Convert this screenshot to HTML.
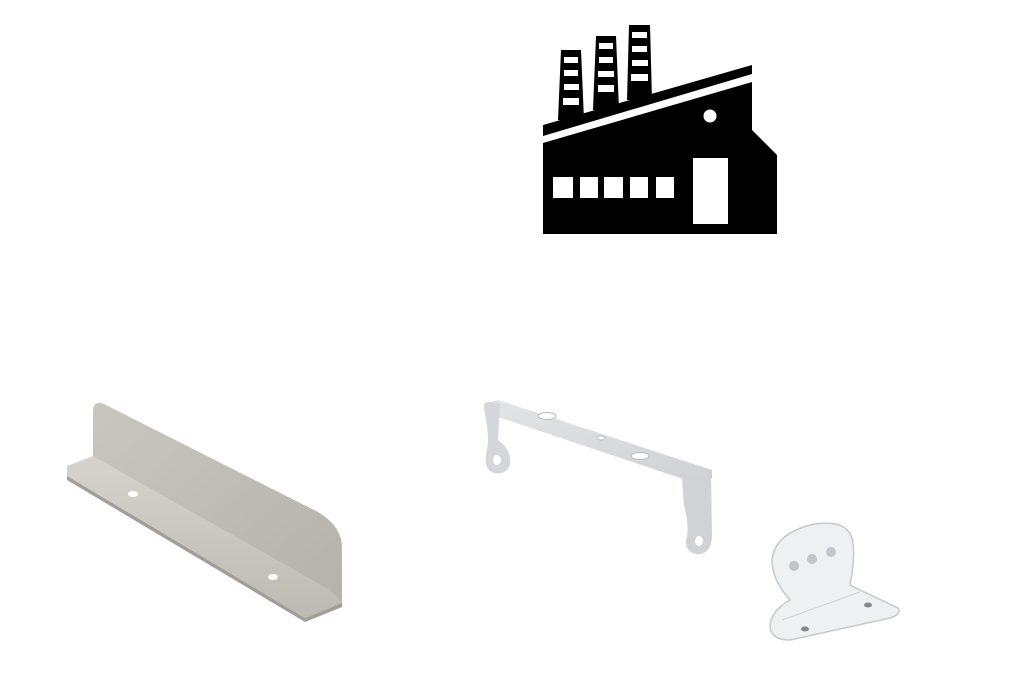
<!DOCTYPE html>
<html><head><style>body{margin:0;background:#fff}svg{display:block}</style></head><body>
<svg width="1024" height="683" viewBox="0 0 1024 683" xmlns="http://www.w3.org/2000/svg">
<defs>
<linearGradient id="g1" x1="0" y1="0" x2="1" y2="1"><stop offset="0" stop-color="#c9c5bf"/><stop offset="1" stop-color="#b5b1ab"/></linearGradient>
<linearGradient id="g2" x1="0" y1="0" x2="0" y2="1"><stop offset="0" stop-color="#d6d2cc"/><stop offset="1" stop-color="#bdb9b3"/></linearGradient>
<linearGradient id="g3" x1="0" y1="0" x2="1" y2="1"><stop offset="0" stop-color="#e2e4e6"/><stop offset="1" stop-color="#cfd1d4"/></linearGradient>
</defs>
<g fill="#000">
<polygon points="561,50 581,50 584,120 558,120"/>
<polygon points="596,36 616,36 619,110 593,110"/>
<polygon points="629,25 650,25 652,100 627,100"/>
<polygon points="543,125 752,65 752,74 543,136"/>
<polygon points="543,143 752,82 752,130 777,155 777,234 543,234"/>
</g>
<g fill="#fff">
<rect x="564" y="57" width="14" height="6"/><rect x="564" y="70" width="14" height="6"/><rect x="564" y="84" width="15" height="6"/><rect x="563" y="98" width="16" height="7"/>
<rect x="599" y="43" width="14" height="6"/><rect x="599" y="57" width="14" height="6"/><rect x="598" y="71" width="16" height="6"/><rect x="598" y="85" width="16" height="7"/>
<rect x="632" y="32" width="15" height="6"/><rect x="632" y="46" width="15" height="6"/><rect x="632" y="60" width="16" height="6"/><rect x="631" y="74" width="17" height="7"/>
<rect x="553" y="177" width="20" height="21"/><rect x="580" y="177" width="18" height="21"/><rect x="604" y="177" width="19" height="21"/><rect x="630" y="177" width="18" height="21"/><rect x="656" y="177" width="18" height="21"/>
<rect x="693" y="158" width="35" height="66"/>
<circle cx="710" cy="116" r="6.5"/>
</g>
<!-- left bracket -->
<path d="M93,470 L93,410 Q94,400 104,404 L318,512 Q342,526 342,548 L342,603 Q340,612 330,606 Z" fill="url(#g1)"/>
<path d="M67,466 L93,456 L330,590 L342,603 L305,618 L67,476 Z" fill="url(#g2)"/>
<path d="M67,476 L305,618 L342,603 L342,607 L305,622 L67,480 Z" fill="#a29e97"/>
<ellipse cx="133" cy="494" rx="5" ry="3" fill="#fff"/>
<ellipse cx="273" cy="577" rx="5" ry="3" fill="#fff"/>
<!-- middle bracket -->
<path d="M486,403 L498,400 L712,470 L710,480 L698,484 L489,414 Z" fill="url(#g3)"/>
<path d="M698,484 L710,480 L712,470 L712,478 Z" fill="#c4c6c9"/>
<path d="M484,408 Q483,402 489,402 L500,404 L498,440 Q512,450 510,465 Q506,475 494,473 Q484,470 486,455 Q490,440 486,420 Z" fill="#d4d6d9"/>
<ellipse cx="497" cy="460" rx="4" ry="5" fill="#fff"/>
<path d="M682,480 Q682,474 692,476 L711,474 L712,535 Q712,552 700,554 Q685,554 686,540 Q690,528 684,505 Z" fill="#d0d2d5"/>
<ellipse cx="699" cy="541" rx="4" ry="5" fill="#fff"/>
<ellipse cx="547" cy="416" rx="9" ry="3.5" fill="#fff" stroke="#bbb"/>
<ellipse cx="601" cy="438" rx="4" ry="2" fill="#fff" stroke="#bbb"/>
<ellipse cx="640" cy="456" rx="9" ry="3.5" fill="#fff" stroke="#bbb"/>
<!-- right bracket -->
<path d="M790,600 Q772,580 772,560 Q774,535 810,525 Q845,518 852,538 Q856,555 850,585 L860,590 L898,608 Q902,614 890,618 L790,640 Q770,640 770,625 Q772,610 790,600 Z" fill="#eef0f2" stroke="#c5c8cc" stroke-width="1.5"/>
<path d="M782,620 L860,592" stroke="#d0d2d5"/>
<circle cx="794" cy="566" r="5" fill="#c2c5c9"/><circle cx="812" cy="559" r="5" fill="#c2c5c9"/><circle cx="831" cy="552" r="5" fill="#c2c5c9"/>
<ellipse cx="805" cy="629" rx="4" ry="2.5" fill="#888"/>
<ellipse cx="868" cy="605" rx="4" ry="2.5" fill="#888"/>
</svg>
</body></html>
